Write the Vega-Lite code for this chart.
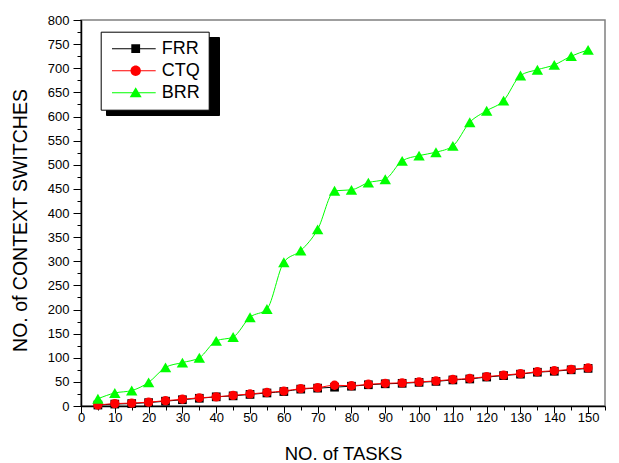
{
  "$schema": "https://vega.github.io/schema/vega-lite/v6.json",
  "width": 524,
  "height": 386,
  "autosize": {"type": "none"},
  "padding": {"left": 81, "top": 20, "right": 14, "bottom": 57},
  "background": "white",
  "config": {
    "view": {"stroke": "#808080", "strokeWidth": 1.5},
    "font": "Liberation Sans",
    "axis": {"domainColor": "black", "tickColor": "black", "labelColor": "black", "titleColor": "black", "grid": false, "labelFont": "Liberation Sans", "titleFont": "Liberation Sans", "titleFontWeight": "normal", "labelFlush": false, "labelOverlap": false}
  },
  "data": {"values": [
    {"tasks": 5, "series": "FRR", "value": 2}, {"tasks": 10, "series": "FRR", "value": 4}, {"tasks": 15, "series": "FRR", "value": 5}, {"tasks": 20, "series": "FRR", "value": 7}, {"tasks": 25, "series": "FRR", "value": 10}, {"tasks": 30, "series": "FRR", "value": 13}, {"tasks": 35, "series": "FRR", "value": 16}, {"tasks": 40, "series": "FRR", "value": 19}, {"tasks": 45, "series": "FRR", "value": 21}, {"tasks": 50, "series": "FRR", "value": 24}, {"tasks": 55, "series": "FRR", "value": 27}, {"tasks": 60, "series": "FRR", "value": 30}, {"tasks": 65, "series": "FRR", "value": 35}, {"tasks": 70, "series": "FRR", "value": 37}, {"tasks": 75, "series": "FRR", "value": 39}, {"tasks": 80, "series": "FRR", "value": 41}, {"tasks": 85, "series": "FRR", "value": 44}, {"tasks": 90, "series": "FRR", "value": 46}, {"tasks": 95, "series": "FRR", "value": 47}, {"tasks": 100, "series": "FRR", "value": 49}, {"tasks": 105, "series": "FRR", "value": 51}, {"tasks": 110, "series": "FRR", "value": 54}, {"tasks": 115, "series": "FRR", "value": 56}, {"tasks": 120, "series": "FRR", "value": 60}, {"tasks": 125, "series": "FRR", "value": 63}, {"tasks": 130, "series": "FRR", "value": 66}, {"tasks": 135, "series": "FRR", "value": 70}, {"tasks": 140, "series": "FRR", "value": 72}, {"tasks": 145, "series": "FRR", "value": 75}, {"tasks": 150, "series": "FRR", "value": 78},
    {"tasks": 5, "series": "CTQ", "value": 2}, {"tasks": 10, "series": "CTQ", "value": 5}, {"tasks": 15, "series": "CTQ", "value": 6}, {"tasks": 20, "series": "CTQ", "value": 8}, {"tasks": 25, "series": "CTQ", "value": 11}, {"tasks": 30, "series": "CTQ", "value": 14}, {"tasks": 35, "series": "CTQ", "value": 17}, {"tasks": 40, "series": "CTQ", "value": 19}, {"tasks": 45, "series": "CTQ", "value": 22}, {"tasks": 50, "series": "CTQ", "value": 25}, {"tasks": 55, "series": "CTQ", "value": 28}, {"tasks": 60, "series": "CTQ", "value": 31}, {"tasks": 65, "series": "CTQ", "value": 36}, {"tasks": 70, "series": "CTQ", "value": 38}, {"tasks": 75, "series": "CTQ", "value": 43}, {"tasks": 80, "series": "CTQ", "value": 42}, {"tasks": 85, "series": "CTQ", "value": 45}, {"tasks": 90, "series": "CTQ", "value": 47}, {"tasks": 95, "series": "CTQ", "value": 48}, {"tasks": 100, "series": "CTQ", "value": 50}, {"tasks": 105, "series": "CTQ", "value": 52}, {"tasks": 110, "series": "CTQ", "value": 55}, {"tasks": 115, "series": "CTQ", "value": 57}, {"tasks": 120, "series": "CTQ", "value": 61}, {"tasks": 125, "series": "CTQ", "value": 64}, {"tasks": 130, "series": "CTQ", "value": 67}, {"tasks": 135, "series": "CTQ", "value": 71}, {"tasks": 140, "series": "CTQ", "value": 73}, {"tasks": 145, "series": "CTQ", "value": 76}, {"tasks": 150, "series": "CTQ", "value": 79},
    {"tasks": 5, "series": "BRR", "value": 15}, {"tasks": 10, "series": "BRR", "value": 27}, {"tasks": 15, "series": "BRR", "value": 32}, {"tasks": 20, "series": "BRR", "value": 49}, {"tasks": 25, "series": "BRR", "value": 80}, {"tasks": 30, "series": "BRR", "value": 90}, {"tasks": 35, "series": "BRR", "value": 100}, {"tasks": 40, "series": "BRR", "value": 135}, {"tasks": 45, "series": "BRR", "value": 143}, {"tasks": 50, "series": "BRR", "value": 184}, {"tasks": 55, "series": "BRR", "value": 201}, {"tasks": 60, "series": "BRR", "value": 298}, {"tasks": 65, "series": "BRR", "value": 322}, {"tasks": 70, "series": "BRR", "value": 366}, {"tasks": 75, "series": "BRR", "value": 446}, {"tasks": 80, "series": "BRR", "value": 448}, {"tasks": 85, "series": "BRR", "value": 463}, {"tasks": 90, "series": "BRR", "value": 470}, {"tasks": 95, "series": "BRR", "value": 508}, {"tasks": 100, "series": "BRR", "value": 519}, {"tasks": 105, "series": "BRR", "value": 526}, {"tasks": 110, "series": "BRR", "value": 539}, {"tasks": 115, "series": "BRR", "value": 588}, {"tasks": 120, "series": "BRR", "value": 612}, {"tasks": 125, "series": "BRR", "value": 633}, {"tasks": 130, "series": "BRR", "value": 685}, {"tasks": 135, "series": "BRR", "value": 697}, {"tasks": 140, "series": "BRR", "value": 707}, {"tasks": 145, "series": "BRR", "value": 725}, {"tasks": 150, "series": "BRR", "value": 738}
  ]},
  "layer": [
    {
      "transform": [{"filter": "datum.series === 'FRR'"}],
      "mark": {"type": "line", "interpolate": "monotone", "strokeWidth": 1, "color": "#000000"},
      "encoding": {
        "x": {"field": "tasks", "type": "quantitative", "scale": {"domain": [0, 155], "nice": false, "zero": false},
          "axis": {"orient": "bottom", "values": [0, 10, 20, 30, 40, 50, 60, 70, 80, 90, 100, 110, 120, 130, 140, 150], "tickSize": 7, "labelFontSize": 13, "labelPadding": -2, "domainWidth": 1.5, "title": "NO. of TASKS", "titleFontSize": 18.5, "titleX": 262, "titleY": 53, "titleBaseline": "alphabetic"}},
        "y": {"field": "value", "type": "quantitative", "scale": {"domain": [0, 800], "nice": false},
          "axis": {"orient": "left", "values": [0, 50, 100, 150, 200, 250, 300, 350, 400, 450, 500, 550, 600, 650, 700, 750, 800], "tickSize": 8, "labelFontSize": 13, "labelPadding": 4, "domainWidth": 1.5, "title": "NO. of CONTEXT SWITCHES", "titleFontSize": 19.5, "titleX": -61, "titleY": 200, "titleBaseline": "middle"}}
      }
    },
    {
      "transform": [{"filter": "datum.series === 'CTQ'"}],
      "mark": {"type": "line", "interpolate": "monotone", "strokeWidth": 1, "color": "#ff0000"},
      "encoding": {
        "x": {"field": "tasks", "type": "quantitative", "axis": null},
        "y": {"field": "value", "type": "quantitative", "axis": null}
      }
    },
    {
      "transform": [{"filter": "datum.series === 'BRR'"}],
      "mark": {"type": "line", "interpolate": "monotone", "strokeWidth": 1, "color": "#00ff00"},
      "encoding": {
        "x": {"field": "tasks", "type": "quantitative", "axis": null},
        "y": {"field": "value", "type": "quantitative", "axis": null}
      }
    },
    {
      "transform": [{"filter": "datum.series === 'FRR'"}],
      "mark": {"type": "point", "filled": true, "opacity": 1, "shape": "square", "size": 76, "color": "#000000"},
      "encoding": {
        "x": {"field": "tasks", "type": "quantitative",
          "axis": {"orient": "bottom", "values": [0, 5, 10, 15, 20, 25, 30, 35, 40, 45, 50, 55, 60, 65, 70, 75, 80, 85, 90, 95, 100, 105, 110, 115, 120, 125, 130, 135, 140, 145, 150, 155], "tickSize": 4, "labels": false, "domain": false, "title": null}},
        "y": {"field": "value", "type": "quantitative",
          "axis": {"orient": "left", "values": [0, 25, 50, 75, 100, 125, 150, 175, 200, 225, 250, 275, 300, 325, 350, 375, 400, 425, 450, 475, 500, 525, 550, 575, 600, 625, 650, 675, 700, 725, 750, 775, 800], "tickSize": 4, "labels": false, "domain": false, "title": null}}
      }
    },
    {
      "transform": [{"filter": "datum.series === 'CTQ'"}],
      "mark": {"type": "point", "filled": true, "opacity": 1, "shape": "circle", "size": 87, "color": "#ff0000"},
      "encoding": {
        "x": {"field": "tasks", "type": "quantitative", "axis": null},
        "y": {"field": "value", "type": "quantitative", "axis": null}
      }
    },
    {
      "transform": [{"filter": "datum.series === 'BRR'"}],
      "mark": {"type": "point", "filled": true, "opacity": 1, "shape": "triangle-up", "size": 130, "color": "#00ff00"},
      "encoding": {
        "x": {"field": "tasks", "type": "quantitative", "axis": null},
        "y": {"field": "value", "type": "quantitative", "axis": null}
      }
    },
    {
      "mark": {"type": "point", "filled": true, "opacity": 0},
      "encoding": {
        "x": {"field": "tasks", "type": "quantitative", "axis": null},
        "y": {"field": "value", "type": "quantitative", "axis": null},
        "color": {"field": "series", "type": "nominal",
          "scale": {"domain": ["FRR", "CTQ", "BRR"], "range": ["#000000", "#ff0000", "#00ff00"]},
          "legend": {"title": null, "orient": "none", "legendX": 19.7, "legendY": 11.7, "zindex": 2, "padding": 8, "strokeColor": "#000000", "fillColor": "#ffffff", "labelFont": "Liberation Sans", "labelFontSize": 18, "labelColor": "#000000", "labelOffset": 35, "rowPadding": 4, "symbolSize": 100, "symbolOpacity": 1, "symbolStrokeWidth": 0}},
        "shape": {"field": "series", "type": "nominal",
          "scale": {"domain": ["FRR", "CTQ", "BRR"], "range": [
            "M-1.14,-0.1H7.6V0.1H-1.14ZM2.72,-0.88H4.48V0.88H2.72Z",
            "M-1.14,-0.1H7.6V0.1H-1.14ZM2.56,0A1.04,1.04 0 1,1 4.64,0A1.04,1.04 0 1,1 2.56,0Z",
            "M-1.14,-0.1H7.6V0.1H-1.14ZM3.6,-1.1L4.8,0.9L2.4,0.9Z"]},
          "legend": {"title": null, "orient": "none", "legendX": 19.7, "legendY": 11.7, "zindex": 2, "padding": 8, "strokeColor": "#000000", "fillColor": "#ffffff", "labelFont": "Liberation Sans", "labelFontSize": 18, "labelColor": "#000000", "labelOffset": 35, "rowPadding": 4, "symbolSize": 100, "symbolOpacity": 1, "symbolStrokeWidth": 0}}
      }
    },
    {
      "mark": {"type": "point", "filled": true, "opacity": 0, "color": "#000000"},
      "encoding": {
        "x": {"field": "tasks", "type": "quantitative", "axis": null},
        "y": {"field": "value", "type": "quantitative", "axis": null},
        "size": {"field": "series", "type": "ordinal",
          "scale": {"domain": ["BRR", "CTQ", "FRR"], "range": [642, 642, 642]},
          "legend": {"title": null, "orient": "none", "legendX": 25, "legendY": 17, "zindex": 0, "padding": 0, "strokeColor": "#000000", "fillColor": "#000000", "labelExpr": "''", "labelFontSize": 1, "labelColor": "#000000", "labelOffset": 0, "rowPadding": 0, "symbolSize": 642, "symbolOpacity": 1, "symbolStrokeWidth": 0, "symbolFillColor": "#000000", "symbolStrokeColor": "#000000", "symbolType": "M-1,-1H7.84V0.96H-1Z"}}
      }
    }
  ],
  "resolve": {"axis": {"x": "independent", "y": "independent"}}
}
